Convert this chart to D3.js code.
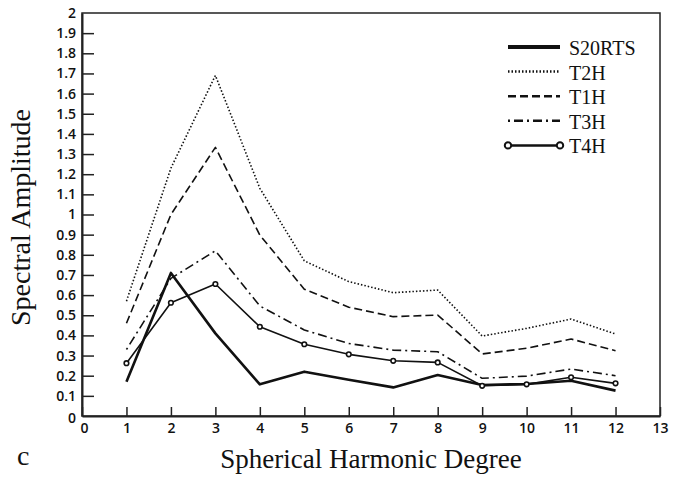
<!DOCTYPE html>
<html>
<head>
<meta charset="utf-8">
<script src="https://cdn.jsdelivr.net/npm/d3@7"></script>
<style>
  body { margin: 0; background: #fff; }
  .tick text { font-family: "Open Sans", sans-serif; font-weight: 600; font-size: 14px; fill: #111; }
  .title { font-family: "Liberation Serif", "Times New Roman", serif; fill: #111; }
</style>
</head>
<body>
<script>
const width = 685
const height = 478

/* Data */
const degrees = [1, 2, 3, 4, 5, 6, 7, 8, 9, 10, 11, 12]
const s20rts = [0.17, 0.71, 0.41, 0.157, 0.22, 0.18, 0.142, 0.203, 0.154, 0.159, 0.175, 0.126]
const t2h = [0.57, 1.23, 1.69, 1.13, 0.77, 0.667, 0.612, 0.625, 0.397, 0.435, 0.481, 0.407]
const t1h = [0.46, 1.0, 1.333, 0.898, 0.629, 0.54, 0.493, 0.501, 0.308, 0.336, 0.382, 0.324]
const t3h = [0.33, 0.683, 0.82, 0.546, 0.427, 0.36, 0.327, 0.319, 0.187, 0.198, 0.233, 0.2]
const t4h = [0.262, 0.562, 0.655, 0.443, 0.356, 0.306, 0.274, 0.266, 0.15, 0.157, 0.192, 0.162]
const xTicks = d3.range(0, 14)
const yTicks = d3.range(0, 21).map(d => d / 10)

const series = [
  {name: "S20RTS", values: s20rts, width: 2.6, dash: null, marker: false, legendWidth: 4},
  {name: "T2H", values: t2h, width: 1.6, dash: "1.5,2", marker: false, legendWidth: 2.5},
  {name: "T1H", values: t1h, width: 1.6, dash: "8,4", marker: false, legendWidth: 2.5},
  {name: "T3H", values: t3h, width: 1.6, dash: "2,4,9,4", marker: false, legendWidth: 2.5},
  {name: "T4H", values: t4h, width: 1.6, dash: null, marker: true, legendWidth: 2.5}
]

const margin = {left: 82, right: 25, top: 13, bottom: 62}

const svg = d3.select("body")
  .append("svg")
  .attr("width", width)
  .attr("height", height)

const x = d3.scaleLinear()
  .domain([0, 13])
  .range([margin.left, width - margin.right])

const y = d3.scaleLinear()
  .domain([0, 2])
  .range([height - margin.bottom, margin.top])

/* Frame */
svg.append("rect")
  .attr("x", x(0))
  .attr("y", y(2))
  .attr("width", x(13) - x(0))
  .attr("height", y(0) - y(2))
  .attr("fill", "none")
  .attr("stroke", "#222")
  .attr("stroke-width", 1.5)

/* Axes, ticks pointing inward */
const xAxis = svg.append("g")
  .attr("transform", `translate(0,${y(0)})`)
  .call(d3.axisBottom(x).tickValues(xTicks).tickSizeInner(-9).tickSizeOuter(0).tickPadding(6))
xAxis.select(".domain").attr("stroke", "#222").attr("stroke-width", 2)
xAxis.selectAll(".tick line").attr("stroke", "#222").attr("stroke-width", 1.5)
xAxis.selectAll(".tick text").attr("dy", "0.71em").attr("y", 7)
xAxis.selectAll(".tick").filter(d => d === 0).select("text").attr("dx", 2)

const yAxis = svg.append("g")
  .attr("transform", `translate(${x(0)},0)`)
  .call(d3.axisLeft(y).tickValues(yTicks).tickFormat(d => d3.format("")(d)).tickSizeInner(-12).tickSizeOuter(0).tickPadding(4))
yAxis.select(".domain").attr("stroke", "#222").attr("stroke-width", 2)
yAxis.selectAll(".tick line").attr("stroke", "#222").attr("stroke-width", 1.5)
yAxis.selectAll(".tick").filter(d => d === 0 || d === 2).select("line").remove()
yAxis.selectAll(".tick text").attr("x", -6)
yAxis.selectAll(".tick").filter(d => d === 0).select("text").attr("dy", "0.45em")

/* Lines */
const line = d3.line()
  .x((d, i) => x(degrees[i]))
  .y(d => y(d))

series.forEach(s => {
  svg.append("path")
    .attr("d", line(s.values))
    .attr("fill", "none")
    .attr("stroke", "#111")
    .attr("stroke-width", s.width)
    .attr("stroke-dasharray", s.dash)
    .attr("stroke-linejoin", "round")
  if (s.marker) {
    svg.append("g").selectAll("circle")
      .data(s.values)
      .enter()
      .append("circle")
      .attr("cx", (d, i) => x(degrees[i]))
      .attr("cy", d => y(d))
      .attr("r", 2.3)
      .attr("fill", "#fff")
      .attr("stroke", "#111")
      .attr("stroke-width", 1.6)
  }
})

/* Legend */
const legend = svg.append("g")
series.forEach((s, i) => {
  const ly = 47 + i * 24.6
  legend.append("line")
    .attr("x1", 508).attr("x2", 560)
    .attr("y1", ly).attr("y2", ly)
    .attr("stroke", "#111")
    .attr("stroke-width", s.legendWidth)
    .attr("stroke-dasharray", s.dash)
  if (s.marker) {
    [508, 560].forEach(cx => {
      legend.append("circle")
        .attr("cx", cx).attr("cy", ly).attr("r", 3.2)
        .attr("fill", "#fff").attr("stroke", "#111").attr("stroke-width", 2)
    })
  }
  legend.append("text")
    .attr("class", "title")
    .attr("x", 569)
    .attr("y", ly + 8)
    .attr("font-size", 20)
    .text(s.name)
})

/* Titles */
svg.append("text")
  .attr("class", "title")
  .attr("transform", `translate(30,${(y(0) + y(2)) / 2 + 3}) rotate(-90)`)
  .attr("text-anchor", "middle")
  .attr("font-size", 28)
  .text("Spectral Amplitude")

svg.append("text")
  .attr("class", "title")
  .attr("x", 371)
  .attr("y", 468)
  .attr("text-anchor", "middle")
  .attr("font-size", 27)
  .text("Spherical Harmonic Degree")

svg.append("text")
  .attr("class", "title")
  .attr("x", 17)
  .attr("y", 465)
  .attr("font-size", 28)
  .text("c")
</script>
</body>
</html>
